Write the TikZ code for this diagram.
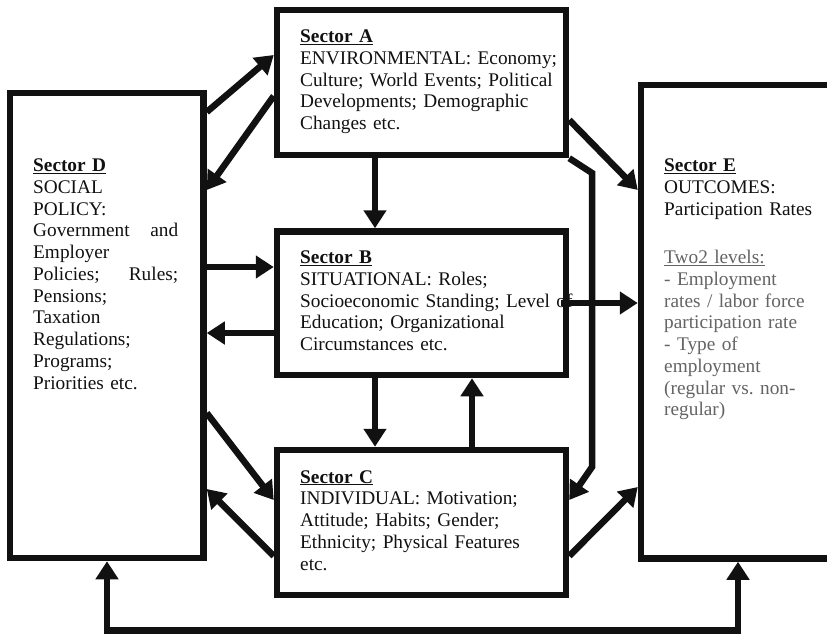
\documentclass[tikz,border=0pt]{standalone}
\usepackage{fontspec}
\setmainfont{Liberation Serif}
\usetikzlibrary{arrows.meta}
\definecolor{ink}{RGB}{17,17,17}
\definecolor{txtgray}{RGB}{100,100,100}
\begin{document}
\begin{tikzpicture}[x=1pt,y=-1pt,
  box/.style={draw=ink, line width=6.5pt, rectangle, inner sep=0pt},
  txt/.style={anchor=base west, inner sep=0pt, align=left, text=ink,
    font=\fontsize{19.3}{21.75}\selectfont},
  arr/.style={draw=ink, line width=6.5pt, -{Triangle[length=18pt,width=22pt]}},
  arrboth/.style={draw=ink, line width=6.5pt, {Triangle[length=18pt,width=22pt]}-{Triangle[length=18pt,width=22pt]}}]
\useasboundingbox (0,0) rectangle (827,635);
\clip (0,0) rectangle (827,635);
\fill[white] (0,0) rectangle (827,635);

% boxes
\node[box, minimum width=289pt, minimum height=145pt] (A) at (421.5,82.5) {};
\node[box, minimum width=289pt, minimum height=143.5pt] (B) at (421.5,303.25) {};
\node[box, minimum width=289pt, minimum height=145pt] (C) at (421.5,522.5) {};
\node[box, minimum width=193.5pt, minimum height=465pt] (D) at (106.75,325.5) {};
\node[box, minimum width=259pt, minimum height=473.5pt] (E) at (770.5,321.75) {};

% texts
\node[txt, text width=320pt] (Atext) at (300,42.7)
  {\underline{\textbf{Sector A}}\\ENVIRONMENTAL: Economy;\\Culture; World Events; Political\\Developments; Demographic\\Changes etc.};
\node[txt, text width=320pt] (Btext) at (300,263.5)
  {\underline{\textbf{Sector B}}\\SITUATIONAL: Roles;\\Socioeconomic Standing; Level of\\Education; Organizational\\Circumstances etc.};
\node[txt, text width=320pt] (Ctext) at (300,483)
  {\underline{\textbf{Sector C}}\\INDIVIDUAL: Motivation;\\Attitude; Habits; Gender;\\Ethnicity; Physical Features\\etc.};
\node[txt, text width=150pt] (Dtext) at (33,171.5)
  {\underline{\textbf{Sector D}}\\SOCIAL\\POLICY:\\\makebox[145pt][l]{Government\hfill and}\\Employer\\\makebox[145pt][l]{Policies;\hfill Rules;}\\Pensions;\\Taxation\\Regulations;\\Programs;\\Priorities etc.};
\node[txt, text width=170pt] (Etext) at (664,171.5)
  {\underline{\textbf{Sector E}}\\OUTCOMES:\\Participation Rates};
\node[txt, text width=170pt, text=txtgray] (Egray) at (664,263.5)
  {\underline{Two2 levels:}\\- Employment\\rates / labor force\\participation rate\\- Type of\\employment\\(regular vs.\ non-\\regular)};

% connectors
\draw[arr] (D.east |- 0,112) -- (A.west |- 0,55);
\draw[arr] (A.west |- 0,96) -- (D.east |- 0,190);
\draw[arr] (A.south -| 375,0) -- (B.north -| 375,0);
\draw[arr] (D.east |- 0,267) -- (B.west |- 0,267);
\draw[arr] (B.west |- 0,333) -- (D.east |- 0,333);
\draw[arr] (B.south -| 375,0) -- (C.north -| 375,0);
\draw[arr] (C.north -| 472,0) -- (B.south -| 472,0);
\draw[arr] (D.east |- 0,413) -- (C.west |- 0,500);
\draw[arr] (C.west |- 0,556) -- (D.east |- 0,489);
\draw[arr] (A.east |- 0,120) -- (E.west |- 0,190);
\coordinate (bendAC1) at (592,173);
\coordinate (bendAC2) at (592,467);
\draw[arr] (A.south east) -- (bendAC1) -- (bendAC2) -- (C.east |- 0,500);
\coordinate (Bout) at ([xshift=-8pt]B.east);
\draw[arr] (Bout |- 0,303) -- (E.west |- 0,303);
\draw[arr] (C.east |- 0,556) -- (E.west |- 0,487);
\coordinate (loopL) at (107,630.5);
\coordinate (loopR) at (738,630.5);
\draw[arrboth] (D.south -| loopL) -- (loopL) -- (loopR) -- (E.south -| loopR);
\end{tikzpicture}
\end{document}
